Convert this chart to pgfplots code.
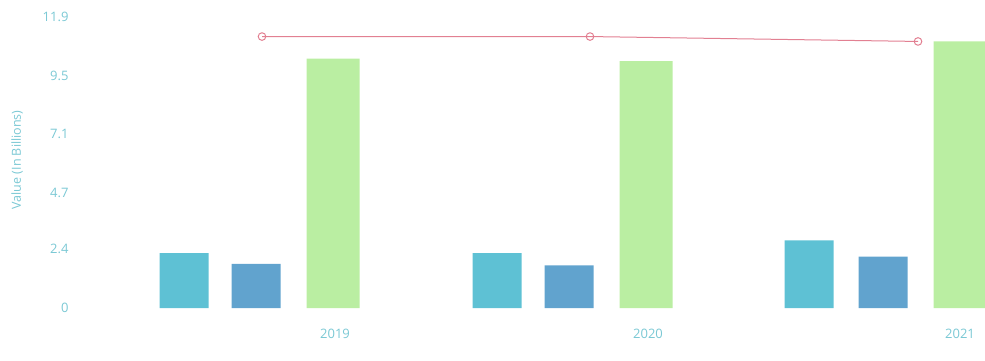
\documentclass[border=0pt]{standalone}
\usepackage{pgfplots}
\pgfplotsset{compat=1.18}
\usepackage{fontspec}
\setmainfont{Open Sans}
\definecolor{cyanbar}{RGB}{94,193,212}
\definecolor{bluebar}{RGB}{97,163,206}
\definecolor{greenbar}{RGB}{186,238,162}
\definecolor{linecol}{RGB}{226,128,146}
\definecolor{txt}{RGB}{122,200,212}
\begin{document}
\begin{tikzpicture}
\begin{axis}[
  scale only axis,
  width=985pt, height=361pt,
  xmin=0, xmax=985,
  ymin=-2.167, ymax=12.595,
  axis line style={draw=none},
  tick style={draw=none},
  ytick={0,2.4,4.7,7.1,9.5,11.9},
  yticklabels={0,2.4,4.7,7.1,9.5,11.9},
  yticklabel style={anchor=east, xshift=72pt, font=\fontsize{13}{15}\selectfont, text=txt},
  xtick={335,648,960},
  xticklabels={2019,2020,2021},
  xticklabel style={anchor=center, yshift=27pt, font=\fontsize{13}{15}\selectfont, text=txt},
  ylabel={Value (In Billions)},
  ylabel style={at={(axis description cs:0.0175,0.557)}, anchor=center, font=\fontsize{12.5}{14}\selectfont, text=txt},
  clip=true,
]
\addplot[ybar, bar width=49pt, bar shift=0pt, fill=cyanbar, draw=none] coordinates {(184,2.24) (497,2.24) (809,2.77)};
\addplot[ybar, bar width=49pt, bar shift=0pt, fill=bluebar, draw=none] coordinates {(256,1.80) (569,1.74) (883,2.10)};
\addplot[ybar, bar width=53pt, bar shift=0pt, fill=greenbar, draw=none] coordinates {(333,10.2) (646,10.1) (960,10.9)};
\addplot[color=linecol, line width=1pt, mark=o, mark size=3.8pt, mark options={fill=white, line width=1pt}] coordinates {(262,11.1) (590,11.1) (918,10.9)};
\end{axis}
\end{tikzpicture}
\end{document}
